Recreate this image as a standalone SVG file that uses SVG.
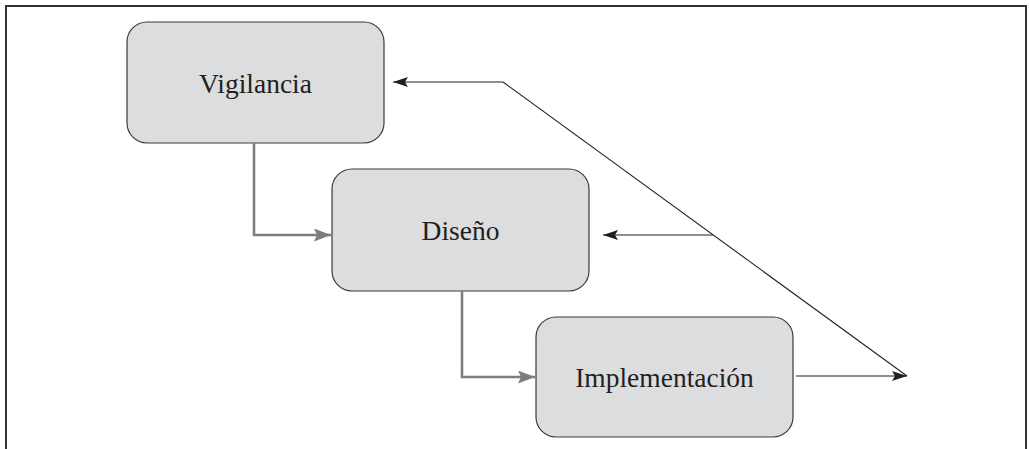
<svg xmlns="http://www.w3.org/2000/svg" width="1029" height="449" viewBox="0 0 1029 449">
<style>
.box{fill:#dcdddf;stroke:#3a3a3a;stroke-width:1.2}
.lbl{font-family:"Liberation Serif","Times New Roman",serif;font-size:27.5px;fill:#231f20;text-anchor:middle}
.gray{fill:none;stroke:#7d7e81;stroke-width:2.6}
.blk{fill:none;stroke:#231f20;stroke-width:1.1}
</style>
<defs>
<marker id="ag" markerUnits="userSpaceOnUse" markerWidth="18" markerHeight="14" refX="17" refY="6.5" orient="auto">
<path d="M0,0 L17,6.5 L0,13 L3,6.5 z" fill="#7d7e81"/>
</marker>
<marker id="ab" markerUnits="userSpaceOnUse" markerWidth="16" markerHeight="12" refX="15" refY="5" orient="auto">
<path d="M0,0 L15,5 L0,10 L3,5 z" fill="#231f20"/>
</marker>
</defs>
<rect x="6" y="6" width="1020" height="460" fill="none" stroke="#333" stroke-width="2"/>
<g id="vigilancia">
<rect class="box" x="127" y="22" width="257" height="121" rx="20"/>
<text class="lbl" x="255.5" y="93">Vigilancia</text>
</g>
<g id="diseno">
<rect class="box" x="332" y="169" width="257" height="122" rx="20"/>
<text class="lbl" x="460.5" y="240">Diseño</text>
</g>
<g id="implementacion">
<rect class="box" x="536" y="317" width="257" height="120" rx="20"/>
<text class="lbl" x="664.5" y="387">Implementación</text>
</g>
<g id="connectors">
<path class="gray" d="M254,143 V235 H331" marker-end="url(#ag)"/>
<path class="gray" d="M462,291 V377 H535" marker-end="url(#ag)"/>
<path class="blk" d="M503,82 L907,376"/>
<path class="blk" d="M503,82 H393" marker-end="url(#ab)"/>
<path class="blk" d="M713,235 H603" marker-end="url(#ab)"/>
<path class="blk" d="M796,376 H907" marker-end="url(#ab)"/>
</g>
</svg>
